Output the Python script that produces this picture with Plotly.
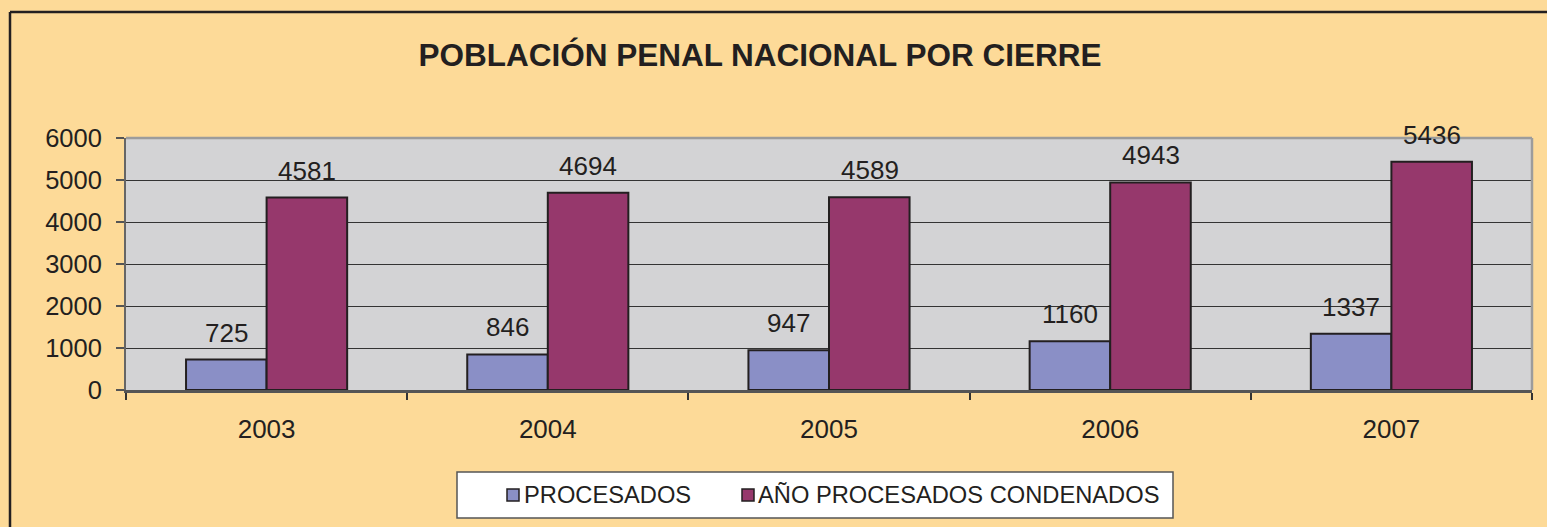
import plotly.graph_objects as go

years = ["2003", "2004", "2005", "2006", "2007"]
procesados = [725, 846, 947, 1160, 1337]
condenados = [4581, 4694, 4589, 4943, 5436]
series_names = ["PROCESADOS", "AÑO PROCESADOS CONDENADOS"]
colors = ["#8A8FC6", "#96386C"]
title_text = "POBLACIÓN PENAL NACIONAL POR CIERRE"

# body margin is removed by post_script, so figure pixels == page pixels
OFF = 0
W_TOTAL, H_TOTAL = 1547, 527
PLOT_L, PLOT_R, PLOT_T, PLOT_B = 126, 1532, 138, 390  # page pixel positions
L = PLOT_L - OFF
T = PLOT_T - OFF
R = W_TOTAL - (PLOT_R - OFF)
B = H_TOTAL - (PLOT_B - OFF)
PW = PLOT_R - PLOT_L
PH = PLOT_B - PLOT_T
FONT = "Liberation Sans, Arial, sans-serif"
TXT = "#231F20"

def px_x(px):
    return (px - PLOT_L) / PW

def px_y(py):
    return (PLOT_B - py) / PH

fig = go.Figure()
for name, vals, col in zip(series_names, [procesados, condenados], colors):
    fig.add_trace(go.Bar(
        x=years, y=vals, name=name,
        marker=dict(color=col, line=dict(color=TXT, width=2)),
        showlegend=False,
    ))

annotations = []
for k, vals in enumerate([procesados, condenados]):
    shift = -40.5 if k == 0 else 40.5
    for i, v in enumerate(vals):
        annotations.append(dict(
            x=i, y=v, xref="x", yref="y", text=str(v), showarrow=False,
            xshift=shift, yshift=10, yanchor="bottom", xanchor="center",
            font=dict(family=FONT, size=26, color=TXT),
        ))

shapes = []
# plot area top/right border (light gray)
shapes.append(dict(type="line", xref="paper", yref="paper", x0=0, x1=1, y0=1, y1=1,
                   line=dict(color="#9C9C9C", width=2.5)))
shapes.append(dict(type="line", xref="paper", yref="paper", x0=1, x1=1, y0=0, y1=1,
                   line=dict(color="#9C9C9C", width=2.5)))
# outer chart border (top and left)
shapes.append(dict(type="line", xref="paper", yref="paper", x0=px_x(10), x1=px_x(1547),
                   y0=px_y(12), y1=px_y(12), line=dict(color=TXT, width=2.5)))
shapes.append(dict(type="line", xref="paper", yref="paper", x0=px_x(10), x1=px_x(10),
                   y0=px_y(12), y1=px_y(527), line=dict(color=TXT, width=2.5)))

# manual legend
shapes.append(dict(type="rect", xref="paper", yref="paper",
                   x0=px_x(457), x1=px_x(1173), y0=px_y(472), y1=px_y(518),
                   fillcolor="white", line=dict(color="#555555", width=1.5)))
leg_pos = [(507, 522), (742, 756)]
for (sx, tx), name, col in zip(leg_pos, series_names, colors):
    shapes.append(dict(type="rect", xref="paper", yref="paper",
                       x0=px_x(sx), x1=px_x(sx + 12), y0=px_y(489), y1=px_y(501),
                       fillcolor=col, line=dict(color=TXT, width=1.5)))
    annotations.append(dict(x=px_x(tx), y=px_y(495), xref="paper", yref="paper",
                            text=name, showarrow=False, xanchor="left", yanchor="middle",
                            font=dict(family=FONT, size=23.7, color=TXT)))

fig.update_layout(
    width=W_TOTAL, height=H_TOTAL,
    margin=dict(l=L, r=R, t=T, b=B),
    paper_bgcolor="#FDDA98",
    plot_bgcolor="#D3D3D5",
    barmode="group", bargap=0.427, bargroupgap=0,
    title=dict(text="<b>" + title_text + "</b>", x=(760 - OFF) / W_TOTAL, xanchor="center",
               y=1 - (55 - OFF) / H_TOTAL, yanchor="middle",
               font=dict(family=FONT, size=31.5, color=TXT)),
    font=dict(family=FONT, color=TXT),
    shapes=shapes,
    annotations=annotations,
    xaxis=dict(
        type="category", range=[-0.5, len(years) - 0.5], autorange=False,
        showline=True, linecolor="#555555", linewidth=2.5,
        ticks="outside", tickson="boundaries", ticklen=7, tickwidth=1.5, tickcolor="#333333",
        tickfont=dict(family=FONT, size=26, color=TXT), ticklabelstandoff=14,
        showgrid=False, zeroline=False,
    ),
    yaxis=dict(
        range=[0, 6000], dtick=1000, showline=True, linecolor="#666666", linewidth=2,
        ticks="outside", ticklen=8, tickwidth=1.5, tickcolor="#555555",
        tickfont=dict(family=FONT, size=25.5, color=TXT), ticklabelstandoff=9,
        showgrid=True, gridcolor="#333333", gridwidth=1, zeroline=False,
    ),
)

fig.write_html(
    "out.html",
    config={"displayModeBar": False},
    post_script="document.body.style.margin='0';document.body.style.overflow='hidden';",
)
